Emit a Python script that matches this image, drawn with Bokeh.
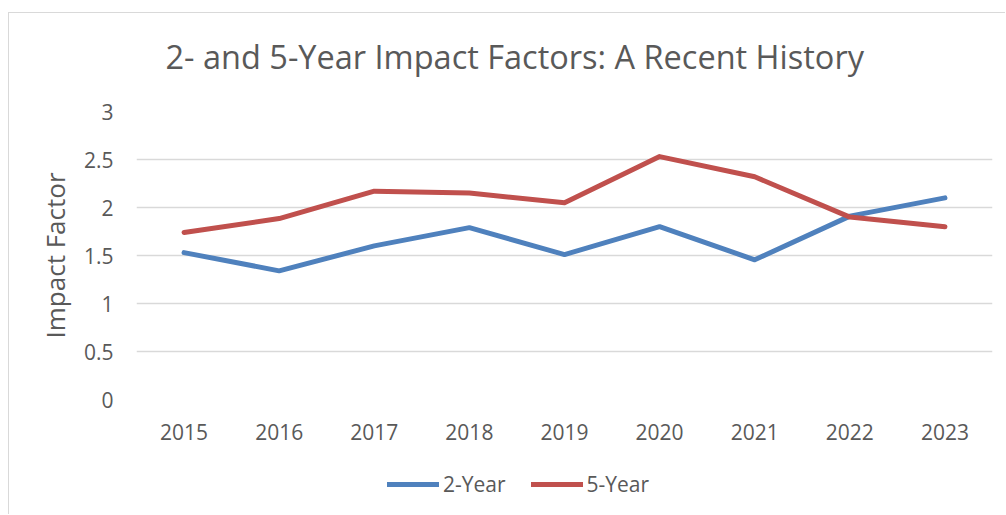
import numpy as np
from bokeh.plotting import figure
from bokeh.layouts import column
from bokeh.models import (FactorRange, Range1d, FixedTicker, CustomJSTickFormatter,
                          Legend, LegendItem, ColumnDataSource, Label)
from bokeh.embed import file_html
from bokeh.resources import INLINE

title_text = "2- and 5-Year Impact Factors: A Recent History"
years = ["2015", "2016", "2017", "2018", "2019", "2020", "2021", "2022", "2023"]
two_year = [1.53, 1.34, 1.60, 1.79, 1.51, 1.80, 1.455, 1.91, 2.10]
five_year = [1.74, 1.885, 2.17, 2.15, 2.05, 2.53, 2.32, 1.90, 1.80]
y_ticks = [0, 0.5, 1, 1.5, 2, 2.5, 3]
series_names = ["2-Year", "5-Year"]
series_colors = ["#4F81BD", "#C0504D"]

FONT = "Open Sans"
TXT = "#595959"


def strip(h):
    f = figure(width=996, height=h, output_backend="svg", toolbar_location=None,
               x_range=Range1d(0, 1), y_range=Range1d(0, 1),
               x_axis_type=None, y_axis_type=None,
               min_border_left=0, min_border_right=0, min_border_top=0,
               min_border_bottom=0)
    f.outline_line_color = None
    return f


# title strip
pt = strip(78)
pt.add_layout(Label(x=29, y=35, x_units="screen", y_units="screen",
                    text=title_text, text_font=FONT, text_font_size="32.5px",
                    text_color=TXT, text_align="left",
                    text_baseline="alphabetic"))

# main chart
src = ColumnDataSource(dict(year=years, two=two_year, five=five_year))
p = figure(width=996, height=371, output_backend="svg", toolbar_location=None,
           x_range=FactorRange(*years, range_padding=0), y_range=Range1d(0, 3),
           min_border_left=127, min_border_right=13, min_border_top=20,
           min_border_bottom=63)
p.outline_line_color = None
p.background_fill_color = "white"

p.line("year", "two", source=src, line_color=series_colors[0], line_width=5,
       line_cap="round", line_join="round")
p.line("year", "five", source=src, line_color=series_colors[1], line_width=5,
       line_cap="round", line_join="round")

p.xgrid.grid_line_color = None
p.ygrid.grid_line_color = "#d9d9d9"
p.ygrid.grid_line_width = 1.5

p.yaxis.ticker = FixedTicker(ticks=y_ticks)
p.yaxis.formatter = CustomJSTickFormatter(code="return String(tick)")
for ax in (p.xaxis, p.yaxis):
    ax.axis_line_color = None
    ax.major_tick_line_color = None
    ax.minor_tick_line_color = None
    ax.major_label_text_font = FONT
    ax.major_label_text_font_size = "21px"
    ax.major_label_text_color = TXT
p.xaxis.major_label_standoff = 18
p.yaxis.major_label_standoff = 17
p.yaxis.axis_label = "Impact Factor"
p.yaxis.axis_label_text_font = FONT
p.yaxis.axis_label_text_font_style = "normal"
p.yaxis.axis_label_text_font_size = "26px"
p.yaxis.axis_label_text_color = TXT
p.yaxis.axis_label_standoff = 8

# legend strip below the chart (placeholder renderers hold no visible data)
p2 = strip(52)
items = []
for name, col in zip(series_names, series_colors):
    r = p2.line(x=np.array([np.nan]), y=np.array([np.nan]), line_color=col,
                line_width=5, line_cap="round")
    items.append(LegendItem(label=name, renderers=[r]))
legend = Legend(items=items, orientation="horizontal", location=(251, 16),
                glyph_width=52, glyph_height=20, label_standoff=4, spacing=25,
                padding=0, margin=0, border_line_color=None,
                background_fill_alpha=0,
                label_text_font=FONT, label_text_font_size="21px",
                label_text_color=TXT)
p2.add_layout(legend, "center")

layout = column(pt, p, p2)
layout.margin = (12, 0, 0, 8)
layout.styles = {"border-left": "1px solid #d9d9d9", "border-top": "1px solid #d9d9d9"}

open("out.html", "w").write(file_html(layout, INLINE))
